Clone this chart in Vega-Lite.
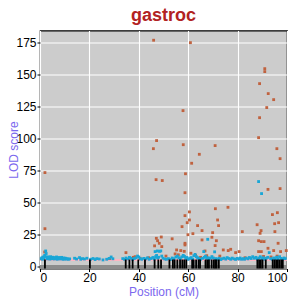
{
  "$schema": "https://vega.github.io/schema/vega-lite/v6.json",
  "width": 247,
  "height": 238,
  "autosize": "none",
  "padding": {"left": 40, "top": 30.5, "right": 11, "bottom": 32.5},
  "config": {
    "font": "Liberation Sans",
    "view": {"fill": "#cccccc", "stroke": "black", "strokeWidth": 1.2},
    "axis": {
      "grid": true, "gridColor": "white", "gridWidth": 1.1, "gridOpacity": 1,
      "domain": false, "ticks": true, "tickColor": "black", "tickSize": 3,
      "labelFont": "Liberation Sans", "labelFontSize": 12, "labelColor": "black",
      "titleFont": "Liberation Sans", "titleFontSize": 12, "titleFontWeight": "normal", "titleColor": "#7b68ee"
    }
  },
  "title": {"text": "gastroc", "fontSize": 18, "fontWeight": "bold", "color": "#b22222", "font": "Liberation Sans", "anchor": "middle", "offset": 6},
  "datasets": {
    "pts": [
      {"pos": 46.0, "lod": 177.1, "model": "A"}, {"pos": 60.9, "lod": 175.2, "model": "A"},
      {"pos": 91.0, "lod": 154.9, "model": "A"}, {"pos": 91.0, "lod": 152.6, "model": "A"},
      {"pos": 88.9, "lod": 143.2, "model": "A"}, {"pos": 92.4, "lod": 135.4, "model": "A"},
      {"pos": 94.6, "lod": 130.7, "model": "A"}, {"pos": 91.8, "lod": 124.5, "model": "A"},
      {"pos": 57.9, "lod": 122.1, "model": "A"}, {"pos": 88.9, "lod": 116.6, "model": "A"},
      {"pos": 88.5, "lod": 101.0, "model": "A"}, {"pos": 47.2, "lod": 98.7, "model": "A"},
      {"pos": 58.0, "lod": 95.5, "model": "A"}, {"pos": 70.9, "lod": 94.8, "model": "A"},
      {"pos": 45.9, "lod": 92.4, "model": "A"}, {"pos": 95.9, "lod": 92.4, "model": "A"},
      {"pos": 64.5, "lod": 88.0, "model": "A"}, {"pos": 97.2, "lod": 84.6, "model": "A"},
      {"pos": 61.4, "lod": 81.0, "model": "A"}, {"pos": 2.0, "lod": 73.7, "model": "A"},
      {"pos": 58.9, "lod": 72.8, "model": "A"}, {"pos": 47.0, "lod": 68.2, "model": "A"},
      {"pos": 49.5, "lod": 67.5, "model": "A"}, {"pos": 97.2, "lod": 61.2, "model": "A"},
      {"pos": 92.3, "lod": 60.6, "model": "A"}, {"pos": 58.7, "lod": 58.0, "model": "A"},
      {"pos": 76.1, "lod": 46.6, "model": "A"}, {"pos": 71.0, "lod": 45.5, "model": "A"},
      {"pos": 60.5, "lod": 43.0, "model": "A"}, {"pos": 96.1, "lod": 42.4, "model": "A"},
      {"pos": 94.1, "lod": 40.9, "model": "A"}, {"pos": 58.7, "lod": 40.1, "model": "A"},
      {"pos": 71.9, "lod": 36.7, "model": "A"}, {"pos": 60.5, "lod": 36.7, "model": "A"},
      {"pos": 59.6, "lod": 34.6, "model": "A"}, {"pos": 96.6, "lod": 34.6, "model": "A"},
      {"pos": 95.0, "lod": 33.8, "model": "A"}, {"pos": 87.9, "lod": 33.0, "model": "A"},
      {"pos": 63.8, "lod": 32.3, "model": "A"}, {"pos": 72.3, "lod": 32.3, "model": "A"},
      {"pos": 57.5, "lod": 31.5, "model": "A"}, {"pos": 2.0, "lod": 29.9, "model": "A"},
      {"pos": 65.6, "lod": 28.4, "model": "A"}, {"pos": 89.5, "lod": 28.4, "model": "A"},
      {"pos": 81.9, "lod": 27.6, "model": "A"}, {"pos": 95.1, "lod": 27.6, "model": "A"},
      {"pos": 69.9, "lod": 26.8, "model": "A"}, {"pos": 89.1, "lod": 26.3, "model": "A"},
      {"pos": 61.9, "lod": 26.0, "model": "A"}, {"pos": 59.9, "lod": 25.2, "model": "A"},
      {"pos": 49.1, "lod": 23.4, "model": "A"}, {"pos": 69.6, "lod": 23.2, "model": "A"},
      {"pos": 47.1, "lod": 22.4, "model": "A"}, {"pos": 53.5, "lod": 22.0, "model": "A"},
      {"pos": 47.6, "lod": 20.5, "model": "A"}, {"pos": 71.4, "lod": 20.5, "model": "A"},
      {"pos": 88.5, "lod": 20.5, "model": "A"}, {"pos": 65.6, "lod": 21.1, "model": "A"},
      {"pos": 89.6, "lod": 19.8, "model": "A"}, {"pos": 90.7, "lod": 19.8, "model": "A"},
      {"pos": 48.3, "lod": 18.5, "model": "A"}, {"pos": 58.7, "lod": 18.5, "model": "A"},
      {"pos": 96.4, "lod": 18.5, "model": "A"}, {"pos": 58.7, "lod": 17.2, "model": "A"},
      {"pos": 46.4, "lod": 16.5, "model": "A"}, {"pos": 70.9, "lod": 16.7, "model": "A"},
      {"pos": 49.3, "lod": 15.9, "model": "A"}, {"pos": 92.3, "lod": 14.6, "model": "A"},
      {"pos": 77.2, "lod": 13.8, "model": "A"}, {"pos": 55.3, "lod": 13.3, "model": "A"},
      {"pos": 74.2, "lod": 13.3, "model": "A"}, {"pos": 57.0, "lod": 12.8, "model": "A"},
      {"pos": 76.2, "lod": 12.8, "model": "A"}, {"pos": 94.6, "lod": 12.8, "model": "A"},
      {"pos": 99.7, "lod": 12.8, "model": "A"}, {"pos": 58.4, "lod": 12.2, "model": "A"},
      {"pos": 88.5, "lod": 12.0, "model": "A"}, {"pos": 89.6, "lod": 12.0, "model": "A"},
      {"pos": 97.4, "lod": 12.0, "model": "A"}, {"pos": 80.6, "lod": 12.0, "model": "A"},
      {"pos": 1.9, "lod": 11.7, "model": "A"}, {"pos": 34.8, "lod": 11.2, "model": "A"},
      {"pos": 79.2, "lod": 11.2, "model": "A"}, {"pos": 54.7, "lod": 10.2, "model": "A"},
      {"pos": 61.1, "lod": 10.7, "model": "A"}, {"pos": 66.8, "lod": 12.5, "model": "A"},
      {"pos": 28.2, "lod": 6.5, "model": "A"}, {"pos": 37.8, "lod": 7.5, "model": "A"},
      {"pos": 44.0, "lod": 7.2, "model": "A"}, {"pos": 51.0, "lod": 8.5, "model": "A"},
      {"pos": 56.0, "lod": 9.5, "model": "A"}, {"pos": 63.0, "lod": 9.0, "model": "A"},
      {"pos": 67.5, "lod": 8.8, "model": "A"}, {"pos": 72.8, "lod": 8.5, "model": "A"},
      {"pos": 83.0, "lod": 7.2, "model": "A"}, {"pos": 90.5, "lod": 8.2, "model": "A"},
      {"pos": 93.5, "lod": 7.8, "model": "A"}, {"pos": 96.0, "lod": 8.5, "model": "A"},
      {"pos": 38.5, "lod": 8.0, "model": "A"}, {"pos": 40.5, "lod": 6.8, "model": "A"},
      {"pos": 65.0, "lod": 7.5, "model": "A"},
      {"pos": 88.5, "lod": 66.7, "model": "B"}, {"pos": 89.7, "lod": 57.3, "model": "B"},
      {"pos": 67.9, "lod": 21.6, "model": "B"}, {"pos": 46.6, "lod": 12.0, "model": "B"},
      {"pos": 47.5, "lod": 12.5, "model": "B"}, {"pos": 48.4, "lod": 12.2, "model": "B"},
      {"pos": 48.9, "lod": 12.5, "model": "B"}, {"pos": 70.7, "lod": 11.8, "model": "B"},
      {"pos": 66.3, "lod": 12.0, "model": "B"}, {"pos": 92.8, "lod": 11.2, "model": "B"},
      {"pos": 0.5, "lod": 6.5, "model": "B"}, {"pos": 0.8, "lod": 7.2, "model": "B"},
      {"pos": 1.0, "lod": 6.0, "model": "B"}, {"pos": 1.3, "lod": 7.8, "model": "B"},
      {"pos": 1.6, "lod": 6.8, "model": "B"}, {"pos": 1.9, "lod": 9.0, "model": "B"},
      {"pos": 2.1, "lod": 8.2, "model": "B"}, {"pos": 2.3, "lod": 12.5, "model": "B"},
      {"pos": 2.5, "lod": 10.5, "model": "B"}, {"pos": 2.8, "lod": 7.5, "model": "B"},
      {"pos": 3.0, "lod": 6.3, "model": "B"}, {"pos": 3.3, "lod": 7.9, "model": "B"},
      {"pos": 3.5, "lod": 6.8, "model": "B"}, {"pos": 3.8, "lod": 7.4, "model": "B"},
      {"pos": 4.0, "lod": 6.1, "model": "B"}, {"pos": 4.3, "lod": 8.0, "model": "B"},
      {"pos": 4.6, "lod": 7.0, "model": "B"}, {"pos": 4.9, "lod": 6.4, "model": "B"},
      {"pos": 5.2, "lod": 7.6, "model": "B"}, {"pos": 5.5, "lod": 6.9, "model": "B"},
      {"pos": 5.8, "lod": 6.2, "model": "B"}, {"pos": 6.1, "lod": 7.3, "model": "B"},
      {"pos": 6.4, "lod": 6.6, "model": "B"}, {"pos": 6.7, "lod": 7.8, "model": "B"},
      {"pos": 7.0, "lod": 6.0, "model": "B"}, {"pos": 7.3, "lod": 7.1, "model": "B"},
      {"pos": 7.6, "lod": 6.5, "model": "B"}, {"pos": 7.9, "lod": 7.4, "model": "B"},
      {"pos": 8.2, "lod": 6.2, "model": "B"}, {"pos": 8.5, "lod": 6.9, "model": "B"},
      {"pos": 8.8, "lod": 7.5, "model": "B"}, {"pos": 9.1, "lod": 6.4, "model": "B"},
      {"pos": 9.4, "lod": 6.0, "model": "B"}, {"pos": 9.7, "lod": 7.0, "model": "B"},
      {"pos": 10.0, "lod": 6.3, "model": "B"}, {"pos": 10.3, "lod": 6.8, "model": "B"},
      {"pos": 10.6, "lod": 6.1, "model": "B"}, {"pos": 11.0, "lod": 6.5, "model": "B"},
      {"pos": 11.5, "lod": 6.0, "model": "B"}, {"pos": 12.0, "lod": 6.3, "model": "B"},
      {"pos": 14.0, "lod": 6.8, "model": "B"}, {"pos": 14.8, "lod": 6.2, "model": "B"},
      {"pos": 16.0, "lod": 7.3, "model": "B"}, {"pos": 16.5, "lod": 6.0, "model": "B"},
      {"pos": 17.2, "lod": 6.5, "model": "B"}, {"pos": 18.0, "lod": 6.2, "model": "B"},
      {"pos": 19.0, "lod": 6.8, "model": "B"}, {"pos": 20.5, "lod": 6.0, "model": "B"},
      {"pos": 21.5, "lod": 6.6, "model": "B"}, {"pos": 22.3, "lod": 5.8, "model": "B"},
      {"pos": 23.0, "lod": 6.5, "model": "B"}, {"pos": 24.0, "lod": 6.2, "model": "B"},
      {"pos": 25.5, "lod": 5.5, "model": "B"}, {"pos": 27.0, "lod": 6.0, "model": "B"},
      {"pos": 28.0, "lod": 6.7, "model": "B"}, {"pos": 28.8, "lod": 7.8, "model": "B"},
      {"pos": 29.5, "lod": 6.4, "model": "B"}, {"pos": 33.5, "lod": 6.5, "model": "B"},
      {"pos": 34.2, "lod": 6.0, "model": "B"}, {"pos": 34.8, "lod": 7.0, "model": "B"},
      {"pos": 35.5, "lod": 6.3, "model": "B"}, {"pos": 36.2, "lod": 7.5, "model": "B"},
      {"pos": 36.8, "lod": 6.8, "model": "B"}, {"pos": 37.5, "lod": 5.9, "model": "B"},
      {"pos": 38.2, "lod": 6.6, "model": "B"}, {"pos": 38.9, "lod": 7.2, "model": "B"},
      {"pos": 39.5, "lod": 8.5, "model": "B"}, {"pos": 40.0, "lod": 7.8, "model": "B"},
      {"pos": 40.6, "lod": 6.5, "model": "B"}, {"pos": 41.2, "lod": 6.0, "model": "B"},
      {"pos": 42.0, "lod": 6.7, "model": "B"}, {"pos": 42.8, "lod": 6.3, "model": "B"},
      {"pos": 43.5, "lod": 7.1, "model": "B"}, {"pos": 44.2, "lod": 6.0, "model": "B"},
      {"pos": 45.0, "lod": 6.6, "model": "B"}, {"pos": 45.7, "lod": 7.4, "model": "B"},
      {"pos": 46.3, "lod": 6.2, "model": "B"}, {"pos": 46.8, "lod": 8.0, "model": "B"},
      {"pos": 47.2, "lod": 9.0, "model": "B"}, {"pos": 47.6, "lod": 7.0, "model": "B"},
      {"pos": 48.0, "lod": 7.6, "model": "B"}, {"pos": 49.3, "lod": 8.5, "model": "B"},
      {"pos": 49.8, "lod": 6.8, "model": "B"}, {"pos": 50.5, "lod": 6.2, "model": "B"},
      {"pos": 51.2, "lod": 6.0, "model": "B"}, {"pos": 52.0, "lod": 6.5, "model": "B"},
      {"pos": 52.8, "lod": 5.8, "model": "B"}, {"pos": 53.5, "lod": 7.0, "model": "B"},
      {"pos": 54.2, "lod": 6.4, "model": "B"}, {"pos": 55.0, "lod": 7.8, "model": "B"},
      {"pos": 55.6, "lod": 8.5, "model": "B"}, {"pos": 56.2, "lod": 7.2, "model": "B"},
      {"pos": 56.8, "lod": 6.5, "model": "B"}, {"pos": 57.4, "lod": 7.9, "model": "B"},
      {"pos": 58.0, "lod": 9.0, "model": "B"}, {"pos": 58.5, "lod": 8.2, "model": "B"},
      {"pos": 59.0, "lod": 6.7, "model": "B"}, {"pos": 59.5, "lod": 7.4, "model": "B"},
      {"pos": 60.0, "lod": 6.0, "model": "B"}, {"pos": 60.6, "lod": 6.6, "model": "B"},
      {"pos": 61.2, "lod": 7.3, "model": "B"}, {"pos": 61.8, "lod": 6.1, "model": "B"},
      {"pos": 62.3, "lod": 8.8, "model": "B"}, {"pos": 62.8, "lod": 9.8, "model": "B"},
      {"pos": 63.3, "lod": 8.0, "model": "B"}, {"pos": 63.8, "lod": 7.2, "model": "B"},
      {"pos": 64.3, "lod": 6.5, "model": "B"}, {"pos": 65.0, "lod": 6.0, "model": "B"},
      {"pos": 65.8, "lod": 6.7, "model": "B"}, {"pos": 66.5, "lod": 7.5, "model": "B"},
      {"pos": 67.0, "lod": 8.4, "model": "B"}, {"pos": 67.5, "lod": 6.8, "model": "B"},
      {"pos": 68.0, "lod": 7.2, "model": "B"}, {"pos": 68.5, "lod": 6.2, "model": "B"},
      {"pos": 69.0, "lod": 6.9, "model": "B"}, {"pos": 69.6, "lod": 8.1, "model": "B"},
      {"pos": 70.2, "lod": 7.0, "model": "B"}, {"pos": 71.2, "lod": 6.5, "model": "B"},
      {"pos": 71.8, "lod": 6.0, "model": "B"}, {"pos": 72.5, "lod": 6.8, "model": "B"},
      {"pos": 73.2, "lod": 5.8, "model": "B"}, {"pos": 73.8, "lod": 6.4, "model": "B"},
      {"pos": 74.5, "lod": 6.9, "model": "B"}, {"pos": 75.2, "lod": 6.1, "model": "B"},
      {"pos": 75.8, "lod": 7.3, "model": "B"}, {"pos": 76.5, "lod": 6.6, "model": "B"},
      {"pos": 77.2, "lod": 6.0, "model": "B"}, {"pos": 77.8, "lod": 6.9, "model": "B"},
      {"pos": 78.5, "lod": 6.3, "model": "B"}, {"pos": 79.2, "lod": 5.9, "model": "B"},
      {"pos": 79.8, "lod": 6.7, "model": "B"}, {"pos": 80.5, "lod": 6.2, "model": "B"},
      {"pos": 81.0, "lod": 7.0, "model": "B"}, {"pos": 81.6, "lod": 6.0, "model": "B"},
      {"pos": 82.2, "lod": 6.5, "model": "B"}, {"pos": 82.8, "lod": 6.0, "model": "B"},
      {"pos": 83.5, "lod": 6.9, "model": "B"}, {"pos": 84.2, "lod": 6.3, "model": "B"},
      {"pos": 84.8, "lod": 7.4, "model": "B"}, {"pos": 85.5, "lod": 6.6, "model": "B"},
      {"pos": 86.1, "lod": 8.0, "model": "B"}, {"pos": 86.8, "lod": 6.8, "model": "B"},
      {"pos": 87.4, "lod": 7.5, "model": "B"}, {"pos": 88.0, "lod": 6.2, "model": "B"},
      {"pos": 88.6, "lod": 7.0, "model": "B"}, {"pos": 89.2, "lod": 8.0, "model": "B"},
      {"pos": 89.8, "lod": 6.5, "model": "B"}, {"pos": 90.4, "lod": 7.2, "model": "B"},
      {"pos": 91.0, "lod": 6.0, "model": "B"}, {"pos": 91.6, "lod": 6.8, "model": "B"},
      {"pos": 92.2, "lod": 7.5, "model": "B"}, {"pos": 93.4, "lod": 6.5, "model": "B"},
      {"pos": 94.0, "lod": 6.0, "model": "B"}, {"pos": 94.6, "lod": 7.0, "model": "B"},
      {"pos": 95.2, "lod": 6.4, "model": "B"}, {"pos": 95.8, "lod": 7.6, "model": "B"},
      {"pos": 96.4, "lod": 6.1, "model": "B"}, {"pos": 97.0, "lod": 8.0, "model": "B"},
      {"pos": 97.6, "lod": 6.7, "model": "B"}, {"pos": 98.2, "lod": 6.2, "model": "B"},
      {"pos": 98.8, "lod": 7.0, "model": "B"}, {"pos": 99.3, "lod": 6.5, "model": "B"}
    ],
    "markers": [
      {"pos": 2.0}, {"pos": 20.2}, {"pos": 34.7}, {"pos": 36.2}, {"pos": 37.5}, {"pos": 39.8},
      {"pos": 42.5}, {"pos": 46.4}, {"pos": 47.9}, {"pos": 49.0}, {"pos": 52.4}, {"pos": 53.8}, {"pos": 54.5},
      {"pos": 55.6}, {"pos": 56.7}, {"pos": 57.6}, {"pos": 58.4}, {"pos": 59.2}, {"pos": 61.6}, {"pos": 62.2}, {"pos": 63.2},
      {"pos": 64.2}, {"pos": 64.8}, {"pos": 67.0}, {"pos": 67.7}, {"pos": 68.4}, {"pos": 69.5}, {"pos": 70.4}, {"pos": 71.0}, {"pos": 71.5},
      {"pos": 72.4}, {"pos": 88.0}, {"pos": 88.7}, {"pos": 89.4}, {"pos": 90.1}, {"pos": 91.4}, {"pos": 94.2}, {"pos": 94.9}, {"pos": 95.6},
      {"pos": 96.3}, {"pos": 97.0}, {"pos": 97.7}, {"pos": 98.3}
    ]
  },
  "layer": [
    {
      "data": {"name": "markers"},
      "mark": {"type": "rule", "color": "#8c8c8c", "strokeWidth": 3},
      "encoding": {"y": {"datum": -0.1, "type": "quantitative", "scale": {"domain": [-1.2, 184.7], "nice": false, "zero": false},
        "axis": {"values": [0, 25, 50, 75, 100, 125, 150, 175], "title": "LOD score", "labelPadding": 1, "titleX": -23, "titleY": 119, "titleAngle": -90, "titleAlign": "center", "titleBaseline": "alphabetic"}}}
    },
    {
      "data": {"name": "markers"},
      "mark": {"type": "rule", "color": "#ffb6c1", "strokeWidth": 1},
      "encoding": {"y": {"datum": 5.2, "type": "quantitative", "axis": {"values": [0, 25, 50, 75, 100, 125, 150, 175], "title": "LOD score", "labelPadding": 1, "titleX": -23, "titleY": 119, "titleAngle": -90, "titleAlign": "center", "titleBaseline": "alphabetic"}}}
    },
    {
      "data": {"name": "pts"},
      "mark": {"type": "square", "size": 8, "opacity": 1, "filled": true},
      "encoding": {
        "x": {"field": "pos", "type": "quantitative", "scale": {"domain": [0, 100], "nice": false, "zero": false},
              "axis": {"values": [0, 20, 40, 60, 80, 100], "title": "Position (cM)", "labelPadding": 1, "titleY": 27, "titleBaseline": "alphabetic"}},
        "y": {"field": "lod", "type": "quantitative", "axis": {"values": [0, 25, 50, 75, 100, 125, 150, 175], "title": "LOD score", "labelPadding": 1, "titleX": -23, "titleY": 119, "titleAngle": -90, "titleAlign": "center", "titleBaseline": "alphabetic"}},
        "color": {"field": "model", "type": "nominal", "scale": {"domain": ["A", "B"], "range": ["#c0623f", "#1aa6d6"]}, "legend": null},
        "order": {"field": "model"}
      }
    },
    {
      "data": {"name": "markers"},
      "mark": {"type": "rule", "color": "black", "strokeWidth": 1.8},
      "encoding": {
        "x": {"field": "pos", "type": "quantitative"},
        "y": {"datum": -1.2, "type": "quantitative", "axis": {"values": [0, 25, 50, 75, 100, 125, 150, 175], "title": "LOD score", "labelPadding": 1, "titleX": -23, "titleY": 119, "titleAngle": -90, "titleAlign": "center", "titleBaseline": "alphabetic"}},
        "y2": {"datum": 5.8}
      }
    }
  ]
}
